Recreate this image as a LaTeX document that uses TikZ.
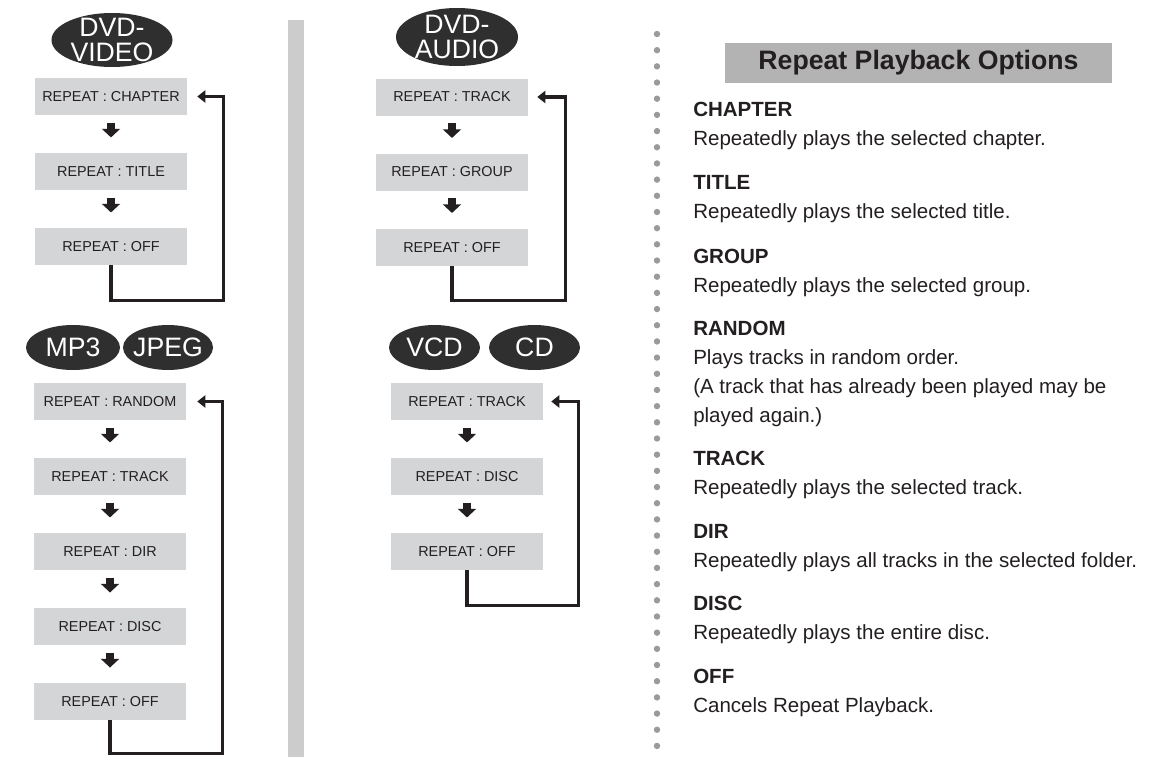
\documentclass[tikz,border=0pt]{standalone}
\usepackage{fontspec}
\setmainfont{Liberation Sans}
\usepackage{xcolor}
\usepackage{tikz}
\usetikzlibrary{arrows.meta, positioning, shapes.geometric}
\definecolor{rpDisc}{HTML}{2F2F2F}
\definecolor{rpBox}{HTML}{D4D5D7}
\definecolor{rpText}{HTML}{231F20}
\definecolor{rpLine}{HTML}{231F20}
\definecolor{rpBar}{HTML}{CCCCCC}
\definecolor{rpDot}{HTML}{9A9A9A}
\definecolor{rpHead}{HTML}{B3B3B3}

\begin{document}
\begin{tikzpicture}[
  x=0.75pt, y=-0.75pt,
  node distance=28.125pt and 10pt,
  disc/.style={
    ellipse,
    fill=rpDisc,
    text=white,
    inner sep=0pt,
    align=center,
    font=\fontsize{20}{18.75}\selectfont
  },
  repbox/.style={
    fill=rpBox,
    text=rpText,
    minimum width=114pt,
    minimum height=27.75pt,
    inner sep=0pt,
    font=\fontsize{10.8}{12}\selectfont
  },
  headbox/.style={
    fill=rpHead,
    text=rpText,
    minimum width=290.25pt,
    minimum height=30pt,
    inner sep=0pt,
    font=\bfseries\fontsize{20}{24}\selectfont
  },
  desc/.style={
    anchor=base west,
    align=left,
    inner sep=0pt,
    text=rpText,
    font=\fontsize{15.4}{21.75}\selectfont
  },
  stepdown/.style={line width=5.5pt, draw=rpLine, -{Triangle[length=6.5pt,width=13.5pt]}, shorten <=5.5pt, shorten >=11.5pt},
  loopback/.style={line width=2.6pt, draw=rpLine, -{Triangle[length=6pt,width=9pt]}}
]
\fill[white] (0,0) rectangle (1154,757);
\useasboundingbox (0,0) rectangle (1154,757);

% DVD-VIDEO
\node[disc, minimum width=90.75pt, minimum height=40.5pt, inner ysep=-3pt] (dvdv) at (112,40) {DVD-\\VIDEO};
\node[repbox] (vchap) at (111,96.5) {REPEAT : CHAPTER};
\node[repbox, below=of vchap] (vtitle) {REPEAT : TITLE};
\node[repbox, below=of vtitle] (voff) {REPEAT : OFF};
\draw[stepdown] (vchap.south) -- (vtitle.north);
\draw[stepdown] (vtitle.south) -- (voff.north);
\draw[loopback] (voff.south) -- ++(0,35) -| ([xshift=27pt]vchap.east) -- ([xshift=7.5pt]vchap.east);

% MP3 / JPEG
\node[disc, minimum width=70.5pt, minimum height=33.75pt] (mp3) at (73,347.5) {MP3};
\node[disc, minimum width=67.5pt, minimum height=33.75pt, inner xsep=-2.5pt] (jpeg) at (168,347.5) {JPEG};
\node[repbox] (mrand) at (110,401.5) {REPEAT : RANDOM};
\node[repbox, below=of mrand] (mtrack) {REPEAT : TRACK};
\node[repbox, below=of mtrack] (mdir) {REPEAT : DIR};
\node[repbox, below=of mdir] (mdisc) {REPEAT : DISC};
\node[repbox, below=of mdisc] (moff) {REPEAT : OFF};
\draw[stepdown] (mrand.south) -- (mtrack.north);
\draw[stepdown] (mtrack.south) -- (mdir.north);
\draw[stepdown] (mdir.south) -- (mdisc.north);
\draw[stepdown] (mdisc.south) -- (moff.north);
\draw[loopback] (moff.south) -- ++(0,33) -| ([xshift=27pt]mrand.east) -- ([xshift=8.25pt]mrand.east);

% divider
\fill[rpBar] (288,20) rectangle (304,757);

% DVD-AUDIO
\node[disc, minimum width=91.5pt, minimum height=43.5pt, inner ysep=-3pt] (dvda) at (457,37) {DVD-\\AUDIO};
\node[repbox] (atrack) at (452,97) {REPEAT : TRACK};
\node[repbox, below=of atrack] (agroup) {REPEAT : GROUP};
\node[repbox, below=of agroup] (aoff) {REPEAT : OFF};
\draw[stepdown] (atrack.south) -- (agroup.north);
\draw[stepdown] (agroup.south) -- (aoff.north);
\draw[loopback] (aoff.south) -- ++(0,34.5) -| ([xshift=27.75pt]atrack.east) -- ([xshift=6.75pt]atrack.east);

% VCD / CD
\node[disc, minimum width=68.25pt, minimum height=33.75pt] (vcd) at (434.5,347.5) {VCD};
\node[disc, minimum width=68.25pt, minimum height=33.75pt] (cd) at (534.5,347.5) {CD};
\node[repbox] (ctrack) at (467,401.5) {REPEAT : TRACK};
\node[repbox, below=of ctrack] (cdisc) {REPEAT : DISC};
\node[repbox, below=of cdisc] (coff) {REPEAT : OFF};
\draw[stepdown] (ctrack.south) -- (cdisc.north);
\draw[stepdown] (cdisc.south) -- (coff.north);
\draw[loopback] (coff.south) -- ++(0,35) -| ([xshift=26.25pt]ctrack.east) -- ([xshift=6pt]ctrack.east);

% dotted rule
\foreach \k in {0,...,44}
  \fill[rpDot] (657,{34+16.18*\k}) circle[radius=2.4pt];

% options (placed by the baseline of their last line)
\node[headbox] (hdr) at (918.5,63) {Repeat Playback Options};
\node[desc] (optchap) at (693,145) {\textbf{CHAPTER}\\Repeatedly plays the selected chapter.};
\node[desc] (opttitle) at (693,218) {\textbf{TITLE}\\Repeatedly plays the selected title.};
\node[desc] (optgroup) at (693,292) {\textbf{GROUP}\\Repeatedly plays the selected group.};
\node[desc] (optrand) at (693,422) {\textbf{RANDOM}\\Plays tracks in random order.\\(A track that has already been played may be\\played again.)};
\node[desc] (opttrack) at (693,494) {\textbf{TRACK}\\Repeatedly plays the selected track.};
\node[desc] (optdir) at (693,567) {\textbf{DIR}\\Repeatedly plays all tracks in the selected folder.};
\node[desc] (optdisc) at (693,639) {\textbf{DISC}\\Repeatedly plays the entire disc.};
\node[desc] (optoff) at (693,712) {\textbf{OFF}\\Cancels Repeat Playback.};
\end{tikzpicture}
\end{document}
